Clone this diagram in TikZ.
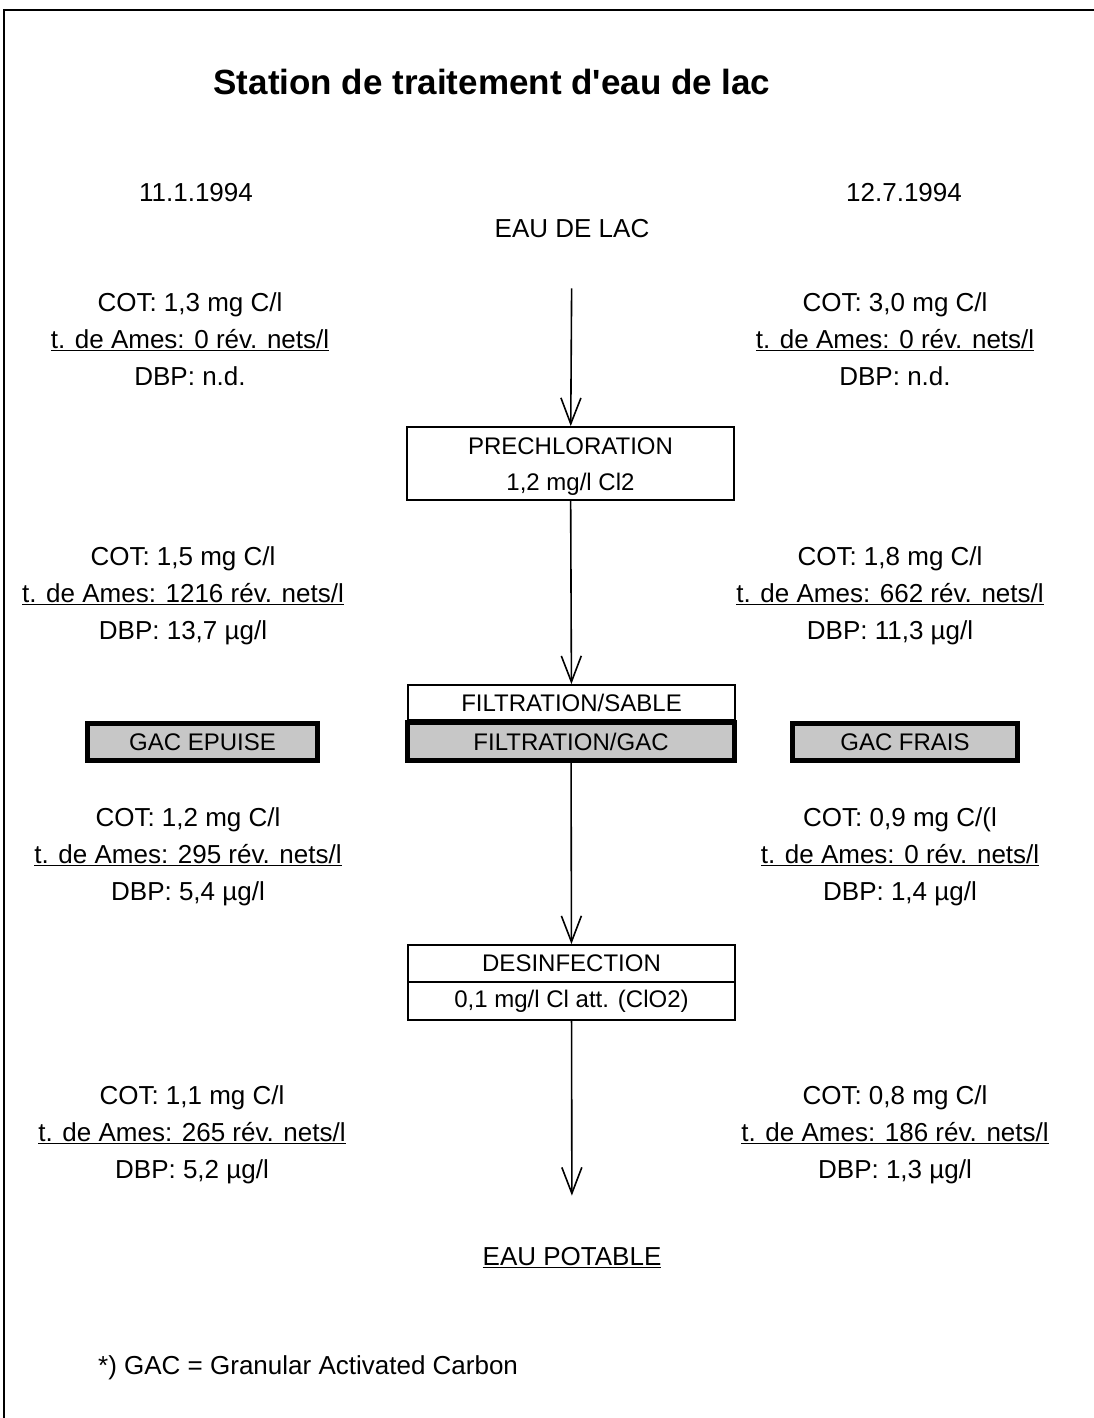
\documentclass[tikz,border=0pt]{standalone}
\usepackage{fontspec}
\setmainfont{Liberation Sans}[Ligatures=TeXOff]
\usetikzlibrary{arrows.meta,positioning}
\tikzset{>={Straight Barb[length=26pt,width=20pt,line width=1.6pt]}}

\begin{document}
\begin{tikzpicture}[x=1pt,y=1pt,
  txt/.style={font=\fontsize{26}{37}\selectfont,align=center,inner sep=0pt},
  stage/.style={draw,line width=1.8pt,minimum width=327pt,inner sep=0pt,
    font=\fontsize{24}{36}\selectfont,align=center},
  gacbox/.style={stage,line width=5pt,fill=black!22,minimum height=38pt},
  flow/.style={->,line width=1.6pt}]
    \useasboundingbox (0,0) rectangle (1094,-1418);
    \draw[line width=2pt] (4,-1418) -- (4,-10) -- (1094,-10);

    \node[font=\bfseries\fontsize{35}{40}\selectfont] (title) at (492,-82) {Station de traitement d'eau de lac};
    \node[txt] (dateA) at (196,-193) {11.1.1994};
    \node[txt] (dateB) at (904,-193) {12.7.1994};
    \node[txt] (lac) at (572,-229) {EAU DE LAC};

    % process line
    \node[stage,minimum height=73pt] (prechl) at (570.5,-463.5) {\rule{0pt}{22pt}PRECHLORATION\\1,2 mg/l Cl2};
    \node[stage,minimum height=35pt] (sable) at (571.5,-702.5) {FILTRATION/SABLE};
    \node[gacbox] (filtgac) at (571,-741.5) {FILTRATION/GAC};
    \node[gacbox,minimum width=230pt,minimum height=37pt] (epuise) at (202.5,-742) {GAC EPUISE};
    \node[gacbox,minimum width=225pt,minimum height=37pt] (frais) at (905,-742) {GAC FRAIS};
    \node[stage,minimum height=37pt] (desinf) at (571.5,-963.5) {DESINFECTION};
    \node[stage,minimum height=38pt] (desdose) at (571.5,-1001) {0,1 mg/l Cl att. (ClO2)};
    \node[txt] (potable) at (572,-1258) {\underline{EAU POTABLE}};

    % analyses, 11.1.1994
    \node[txt] (resA1) at (190,-339) {COT: 1,3 mg C/l\\\underline{t. de Ames: 0 rév. nets/l}\\DBP: n.d.};
    \node[txt] (resA2) at (183,-596) {COT: 1,5 mg C/l\\\underline{t. de Ames: 1216 rév. nets/l}\\DBP: 13,7 µg/l};
    \node[txt] (resA3) at (188,-857) {COT: 1,2 mg C/l\\\underline{t. de Ames: 295 rév. nets/l}\\DBP: 5,4 µg/l};
    \node[txt] (resA4) at (192,-1135) {COT: 1,1 mg C/l\\\underline{t. de Ames: 265 rév. nets/l}\\DBP: 5,2 µg/l};

    % analyses, 12.7.1994
    \node[txt] (resB1) at (895,-339) {COT: 3,0 mg C/l\\\underline{t. de Ames: 0 rév. nets/l}\\DBP: n.d.};
    \node[txt] (resB2) at (890,-596) {COT: 1,8 mg C/l\\\underline{t. de Ames: 662 rév. nets/l}\\DBP: 11,3 µg/l};
    \node[txt] (resB3) at (900,-857) {COT: 0,9 mg C/(l\\\underline{t. de Ames: 0 rév. nets/l}\\DBP: 1,4 µg/l};
    \node[txt] (resB4) at (895,-1135) {COT: 0,8 mg C/l\\\underline{t. de Ames: 186 rév. nets/l}\\DBP: 1,3 µg/l};

    \node[txt,anchor=west] (note) at (98,-1368) {*) GAC = Granular Activated Carbon};

    \draw[flow,shorten <=50pt] (lac) -- (prechl);
    \draw[flow] (prechl) -- (sable);
    \draw[flow] (filtgac) -- (desinf);
    \draw[flow,shorten >=52pt] (desdose) -- (potable);
\end{tikzpicture}
\end{document}
